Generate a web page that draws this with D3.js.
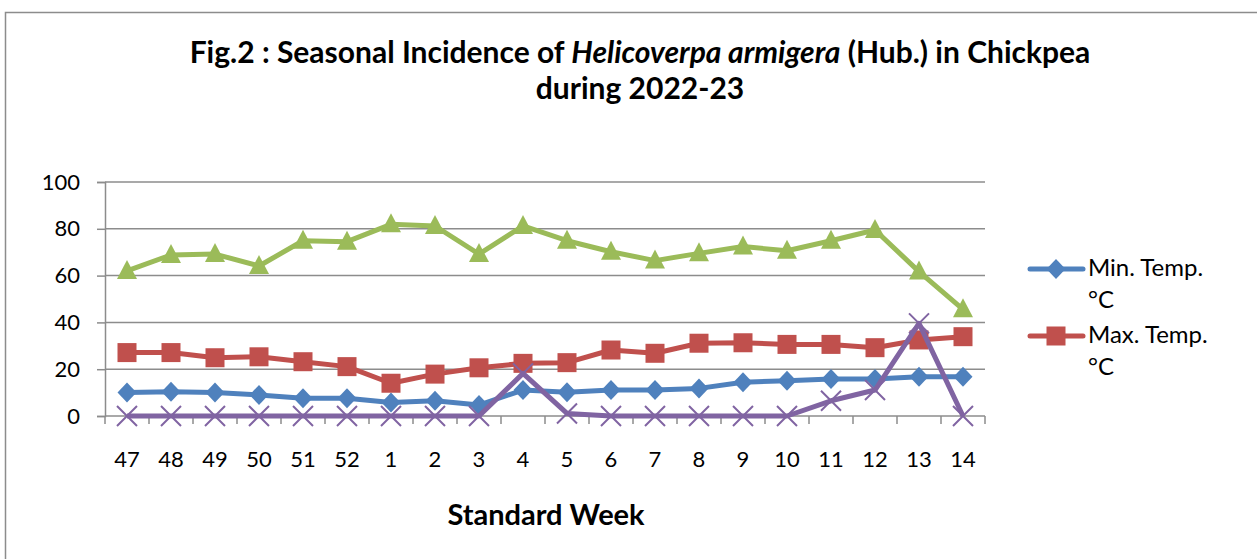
<!DOCTYPE html>
<html>
<head>
<meta charset="utf-8">
<script src="https://cdn.jsdelivr.net/npm/d3@7"></script>
<style>
  body { margin: 0; background: #fff; }
  text { font-family: Lato, "Open Sans", sans-serif; fill: #000; }
</style>
</head>
<body>
<div id="chart"></div>
<script>
// data
const weeks = ["47", "48", "49", "50", "51", "52", "1", "2", "3", "4", "5", "6", "7", "8", "9", "10", "11", "12", "13", "14"];
const minTemp = [10, 10.4, 10, 9, 7.6, 7.6, 5.8, 6.5, 4.7, 11.1, 10.1, 11.1, 11.1, 11.8, 14.4, 15.1, 15.8, 15.8, 16.8, 16.8];
const maxTemp = [27.1, 27.1, 24.9, 25.3, 23.2, 21.1, 14.0, 17.9, 20.6, 22.5, 22.8, 28.2, 26.8, 31.1, 31.3, 30.6, 30.6, 29.2, 32.5, 33.9];
const relHum = [62, 68.8, 69.2, 64.1, 74.9, 74.5, 81.9, 81.2, 69.2, 81.2, 74.9, 70.2, 66.4, 69.5, 72.4, 70.6, 74.9, 79.5, 61.7, 45.6];
const larvae = [0, 0, 0, 0, 0, 0, 0, 0, 0, 18.2, 1.1, 0, 0, 0, 0, 0, 6.5, 11.1, 39.6, 0];
const yTicks = [0, 20, 40, 60, 80, 100];

const series = [
  { name: "Min. Temp. °C", values: minTemp, color: "#4F81BD", marker: "diamond" },
  { name: "Max. Temp. °C", values: maxTemp, color: "#C0504D", marker: "square" },
  { name: "RH", values: relHum, color: "#9BBB59", marker: "triangle" },
  { name: "Larvae", values: larvae, color: "#8064A2", marker: "x" }
];

const width = 1257, height = 559;
const svg = d3.select("#chart").append("svg")
  .attr("width", width).attr("height", height);

// outer chart frame (cut off at right and bottom)
svg.append("path")
  .attr("d", "M5.5," + height + "V12.5H" + width)
  .attr("fill", "none").attr("stroke", "#8c8c8c").attr("stroke-width", 1.5);

// title, two lines
const title = svg.append("text")
  .attr("x", 640).attr("y", 63)
  .attr("text-anchor", "middle")
  .style("font-size", "30px").style("font-weight", "bold");
title.append("tspan").text("Fig.2 : Seasonal Incidence of ");
title.append("tspan").style("font-style", "italic").text("Helicoverpa armigera");
title.append("tspan").text(" (Hub.) in Chickpea");
svg.append("text")
  .attr("x", 640).attr("y", 99)
  .attr("text-anchor", "middle")
  .style("font-size", "30px").style("font-weight", "bold")
  .text("during 2022-23");

const m = { left: 105, right: 985, top: 182, bottom: 416 };

const x = d3.scaleBand().domain(weeks).range([m.left, m.right]);
const y = d3.scaleLinear().domain([0, 100]).range([m.bottom, m.top]);

// gridlines
svg.append("g")
  .selectAll("line").data(yTicks.filter(d => d > 0)).join("line")
  .attr("x1", m.left).attr("x2", m.right)
  .attr("y1", d => y(d)).attr("y2", d => y(d))
  .attr("stroke", "#8c8c8c").attr("stroke-width", 1.5);

// y axis
const yAxis = svg.append("g")
  .attr("transform", `translate(${m.left},0)`)
  .call(d3.axisLeft(y).tickValues(yTicks).tickSize(8).tickPadding(17));
yAxis.select(".domain").attr("stroke", "#8c8c8c").attr("stroke-width", 1.5);
yAxis.selectAll(".tick line").attr("stroke", "#8c8c8c").attr("stroke-width", 1.5);
yAxis.selectAll("text").style("font-size", "22px")
  .style("font-family", "Lato, 'Open Sans', sans-serif").attr("fill", "#000");

// x axis: ticks at band edges
const xAxis = svg.append("g")
  .attr("transform", `translate(0,${m.bottom})`);
xAxis.append("line")
  .attr("x1", m.left).attr("x2", m.right)
  .attr("stroke", "#8c8c8c").attr("stroke-width", 1.5);
xAxis.selectAll("line.tk").data(d3.range(weeks.length + 1)).join("line")
  .attr("class", "tk")
  .attr("x1", i => m.left + i * x.bandwidth()).attr("x2", i => m.left + i * x.bandwidth())
  .attr("y1", 0).attr("y2", 8)
  .attr("stroke", "#8c8c8c").attr("stroke-width", 1.5);
xAxis.selectAll("text").data(weeks).join("text")
  .attr("x", d => x(d) + x.bandwidth() / 2)
  .attr("y", 51)
  .attr("text-anchor", "middle")
  .style("font-size", "22px")
  .text(d => d);

svg.append("text")
  .attr("x", 546).attr("y", 525)
  .attr("text-anchor", "middle")
  .style("font-size", "29px").style("font-weight", "bold")
  .text("Standard Week");

const cx = (d, i) => x(weeks[i]) + x.bandwidth() / 2;

function drawMarker(g, type, color) {
  if (type === "diamond") {
    g.append("path").attr("d", "M0,-10L9.5,0L0,10L-9.5,0Z").attr("fill", color);
  } else if (type === "square") {
    g.append("rect").attr("x", -9.5).attr("y", -9.5).attr("width", 19).attr("height", 19).attr("fill", color);
  } else if (type === "triangle") {
    g.append("path").attr("d", "M0,-11L10,8L-10,8Z").attr("fill", color);
  } else {
    g.append("path").attr("d", "M-10,-10L10,10M-10,10L10,-10")
      .attr("stroke", color).attr("stroke-width", 2).attr("fill", "none");
  }
}

const line = d3.line().x(cx).y(d => y(d));

series.forEach(s => {
  const g = svg.append("g");
  g.append("path")
    .datum(s.values)
    .attr("d", line)
    .attr("fill", "none")
    .attr("stroke", s.color)
    .attr("stroke-width", 5)
    .attr("stroke-linejoin", "round");
  g.selectAll("g.mk").data(s.values).join("g")
    .attr("class", "mk")
    .attr("transform", (d, i) => `translate(${cx(d, i)},${y(d)})`)
    .each(function () { drawMarker(d3.select(this), s.marker, s.color); });
});

// legend (only the first two entries fit)
const legend = svg.append("g");
series.slice(0, 2).forEach((s, i) => {
  const ly = 269 + i * 67;
  const g = legend.append("g");
  g.append("line")
    .attr("x1", 1030).attr("x2", 1083).attr("y1", ly).attr("y2", ly)
    .attr("stroke", s.color).attr("stroke-width", 5).attr("stroke-linecap", "round");
  const mk = g.append("g").attr("transform", `translate(1056,${ly})`);
  drawMarker(mk, s.marker, s.color);
  const parts = s.name.split(" °C");
  g.append("text").attr("x", 1088).attr("y", ly + 7).style("font-size", "24px").text(parts[0]);
  g.append("text").attr("x", 1088).attr("y", ly + 39).style("font-size", "24px").text("°C");
});
</script>
</body>
</html>
